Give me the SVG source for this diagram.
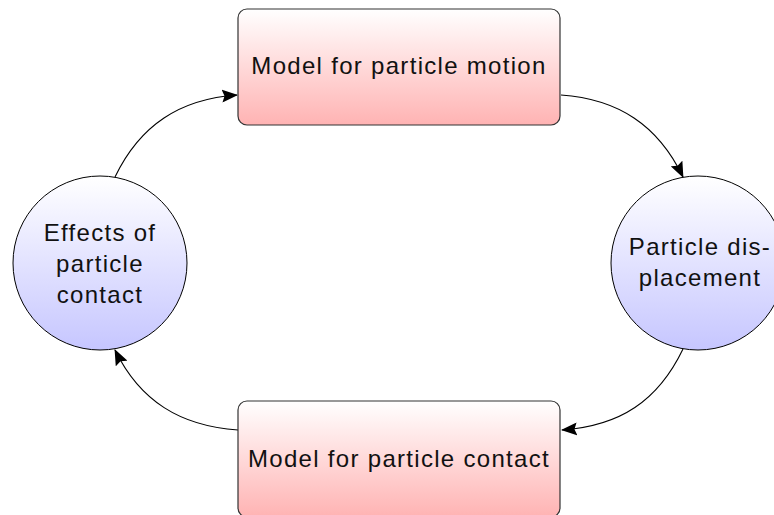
<svg xmlns="http://www.w3.org/2000/svg" width="774" height="515" viewBox="0 0 774 515">
  <defs>
    <linearGradient id="boxFill" x1="0" y1="0" x2="0" y2="1">
      <stop offset="0" stop-color="#ffffff"/>
      <stop offset="1" stop-color="#ffb3b3"/>
    </linearGradient>
    <linearGradient id="roundFill" x1="0" y1="0" x2="0" y2="1">
      <stop offset="0" stop-color="#ffffff"/>
      <stop offset="1" stop-color="#c6c6ff"/>
    </linearGradient>
    <marker id="arrow" viewBox="0 0 16 13" refX="15" refY="6.5" markerWidth="16" markerHeight="13" markerUnits="userSpaceOnUse" orient="auto">
      <path d="M0,0 L16,6.5 L0,13 L2.5,6.5 Z" fill="#000"/>
    </marker>
  </defs>
  <style>
    .box { fill: url(#boxFill); stroke: #333; stroke-width: 1.2; }
    .round { fill: url(#roundFill); stroke: #000; stroke-width: 1; }
    .label { font-family: "Liberation Sans", Arial, sans-serif; font-size: 24px; fill: #111; text-anchor: middle; letter-spacing: 1.3px; }
    .edge { fill: none; stroke: #000; stroke-width: 1.1; marker-end: url(#arrow); }
  </style>

  <rect width="774" height="515" fill="#ffffff"/>

  <!-- connectors -->
  <g id="edges">
    <path class="edge" d="M115,177 C140,125 180,99 237,95"/>
    <path class="edge" d="M561,95 C618,99 658,125 683,177"/>
    <path class="edge" d="M683,349 C658,401 620,426 562,430"/>
    <path class="edge" d="M238,430 C180,426 140,401 115,350"/>
  </g>

  <g id="motion-model">
    <rect class="box" x="238" y="9" width="322" height="116" rx="9"/>
    <text class="label" x="399" y="74">Model for particle motion</text>
  </g>

  <g id="displacement">
    <circle class="round" cx="698" cy="263" r="87"/>
    <text class="label" x="700" y="255">Particle dis-</text>
    <text class="label" x="700" y="286">placement</text>
  </g>

  <g id="contact-model">
    <rect class="box" x="238" y="401" width="322" height="116" rx="9"/>
    <text class="label" x="399" y="467">Model for particle contact</text>
  </g>

  <g id="contact-effects">
    <circle class="round" cx="100" cy="263" r="87"/>
    <text class="label" x="100" y="241">Effects of</text>
    <text class="label" x="100" y="272">particle</text>
    <text class="label" x="100" y="303">contact</text>
  </g>
</svg>
